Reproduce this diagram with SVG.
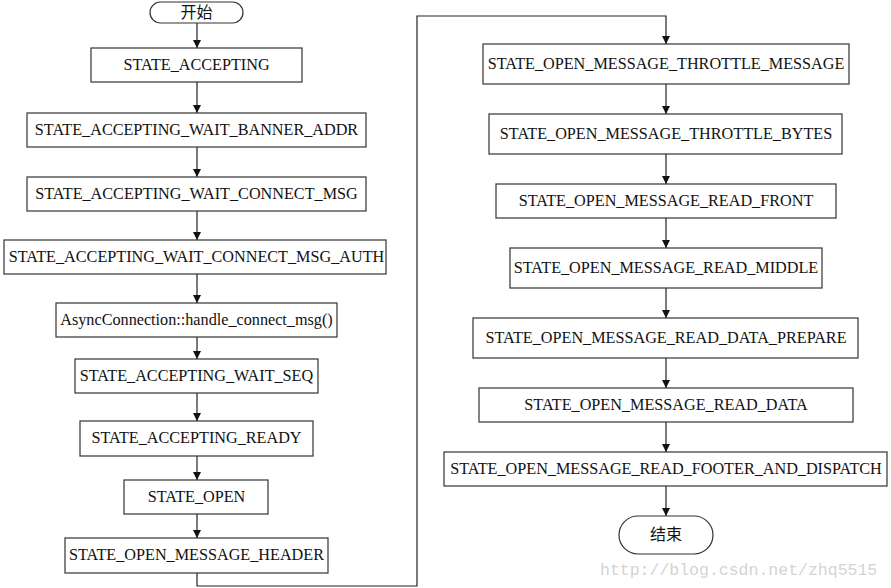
<svg xmlns="http://www.w3.org/2000/svg" width="891" height="588" viewBox="0 0 891 588">
<style>
  .box { fill: #ffffff; stroke: #333333; stroke-width: 1.2; }
  .lbl { font-family: "Liberation Serif", "Times New Roman", serif; font-size: 16.2px; fill: #111111; text-anchor: middle; }
  .cjk { font-family: "Noto Sans CJK SC", sans-serif; font-size: 16px; fill: #111111; text-anchor: middle; }
  .conn { fill: none; stroke: #222222; stroke-width: 1.2; }
  .wm { font-family: "Liberation Mono", "DejaVu Sans Mono", monospace; font-size: 16.5px; fill: #d4d4d4; }
</style>
<defs>
  <marker id="arr" viewBox="0 0 10 10" refX="10" refY="5" markerWidth="8" markerHeight="8" markerUnits="userSpaceOnUse" orient="auto">
    <path d="M0,0 L10,5 L0,10 z" fill="#111111"/>
  </marker>
</defs>
<rect width="891" height="588" fill="#ffffff"/>

<g id="connectors">
  <path class="conn" d="M197,23 V48" marker-end="url(#arr)"/>
  <path class="conn" d="M197,82 V113" marker-end="url(#arr)"/>
  <path class="conn" d="M197,147 V177" marker-end="url(#arr)"/>
  <path class="conn" d="M197,211 V240" marker-end="url(#arr)"/>
  <path class="conn" d="M197,274 V303" marker-end="url(#arr)"/>
  <path class="conn" d="M197,337 V359" marker-end="url(#arr)"/>
  <path class="conn" d="M197,393 V421" marker-end="url(#arr)"/>
  <path class="conn" d="M197,456 V480" marker-end="url(#arr)"/>
  <path class="conn" d="M197,514 V538" marker-end="url(#arr)"/>
  <path class="conn" d="M197,573 V586 H417 V16 H666 V44" marker-end="url(#arr)"/>
  <path class="conn" d="M666,84 V114" marker-end="url(#arr)"/>
  <path class="conn" d="M666,154 V184" marker-end="url(#arr)"/>
  <path class="conn" d="M666,218 V248" marker-end="url(#arr)"/>
  <path class="conn" d="M666,288 V318" marker-end="url(#arr)"/>
  <path class="conn" d="M666,358 V388" marker-end="url(#arr)"/>
  <path class="conn" d="M666,422 V452" marker-end="url(#arr)"/>
  <path class="conn" d="M666,486 V516" marker-end="url(#arr)"/>
</g>

<g id="start">
  <rect class="box" x="150" y="2" width="93" height="21" rx="10.5" ry="10.5"/>
  <text class="cjk" x="196.5" y="18">开始</text>
</g>
<g id="state_accepting">
  <rect class="box" x="91" y="48" width="211" height="34"/>
  <text class="lbl" x="196.5" y="69.5">STATE_ACCEPTING</text>
</g>
<g id="wait_banner_addr">
  <rect class="box" x="27" y="113" width="339" height="34"/>
  <text class="lbl" x="196.5" y="134.5">STATE_ACCEPTING_WAIT_BANNER_ADDR</text>
</g>
<g id="wait_connect_msg">
  <rect class="box" x="27" y="177" width="339" height="34"/>
  <text class="lbl" x="196.5" y="198.5">STATE_ACCEPTING_WAIT_CONNECT_MSG</text>
</g>
<g id="wait_connect_msg_auth">
  <rect class="box" x="4" y="240" width="382" height="34"/>
  <text class="lbl" x="196.5" y="261.5">STATE_ACCEPTING_WAIT_CONNECT_MSG_AUTH</text>
</g>
<g id="handle_connect_msg">
  <rect class="box" x="56" y="303" width="281" height="34"/>
  <text class="lbl" x="196.5" y="324.5">AsyncConnection::handle_connect_msg()</text>
</g>
<g id="wait_seq">
  <rect class="box" x="75" y="359" width="243" height="34"/>
  <text class="lbl" x="196.5" y="380.5">STATE_ACCEPTING_WAIT_SEQ</text>
</g>
<g id="accepting_ready">
  <rect class="box" x="80" y="421" width="233" height="35"/>
  <text class="lbl" x="196.5" y="443">STATE_ACCEPTING_READY</text>
</g>
<g id="state_open">
  <rect class="box" x="124" y="480" width="144" height="34"/>
  <text class="lbl" x="196.5" y="501.5">STATE_OPEN</text>
</g>
<g id="message_header">
  <rect class="box" x="65" y="538" width="263" height="35"/>
  <text class="lbl" x="196.5" y="560">STATE_OPEN_MESSAGE_HEADER</text>
</g>

<g id="throttle_message">
  <rect class="box" x="483" y="44" width="366" height="40"/>
  <text class="lbl" x="666" y="68.5">STATE_OPEN_MESSAGE_THROTTLE_MESSAGE</text>
</g>
<g id="throttle_bytes">
  <rect class="box" x="489" y="114" width="353" height="40"/>
  <text class="lbl" x="666" y="138.5">STATE_OPEN_MESSAGE_THROTTLE_BYTES</text>
</g>
<g id="read_front">
  <rect class="box" x="496" y="184" width="340" height="34"/>
  <text class="lbl" x="666" y="205.5">STATE_OPEN_MESSAGE_READ_FRONT</text>
</g>
<g id="read_middle">
  <rect class="box" x="510" y="248" width="312" height="40"/>
  <text class="lbl" x="666" y="272.5">STATE_OPEN_MESSAGE_READ_MIDDLE</text>
</g>
<g id="read_data_prepare">
  <rect class="box" x="473" y="318" width="385" height="40"/>
  <text class="lbl" x="666" y="342.5">STATE_OPEN_MESSAGE_READ_DATA_PREPARE</text>
</g>
<g id="read_data">
  <rect class="box" x="479" y="388" width="374" height="34"/>
  <text class="lbl" x="666" y="409.5">STATE_OPEN_MESSAGE_READ_DATA</text>
</g>
<g id="read_footer_and_dispatch">
  <rect class="box" x="444" y="452" width="443" height="34"/>
  <text class="lbl" x="666" y="473.5">STATE_OPEN_MESSAGE_READ_FOOTER_AND_DISPATCH</text>
</g>
<g id="end">
  <rect class="box" x="619" y="516" width="94" height="38" rx="19" ry="19"/>
  <text class="cjk" x="666" y="540">结束</text>
</g>

<text class="wm" x="600" y="575">http://blog.csdn.net/zhq5515</text>
</svg>
